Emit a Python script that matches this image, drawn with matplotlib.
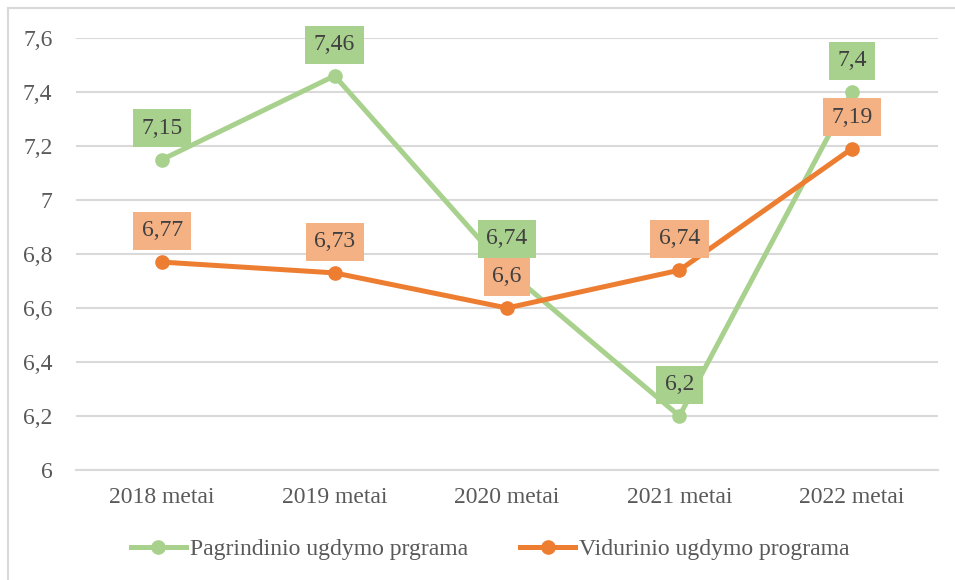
"""line chart of two programme averages by year
"""

import matplotlib.pyplot as plt
from matplotlib.lines import Line2D

years = ['2018 metai', '2019 metai', '2020 metai', '2021 metai', '2022 metai']
pagrindinio = [7.15, 7.46, 6.74, 6.2, 7.4]
vidurinio = [6.77, 6.73, 6.6, 6.74, 7.19]
series_names = ['Pagrindinio ugdymo prgrama', 'Vidurinio ugdymo programa']
y_ticks = [6, 6.2, 6.4, 6.6, 6.8, 7, 7.2, 7.4, 7.6]

GREEN = '#A9D18E'
ORANGE = '#ED7D31'
ORANGE_BOX = '#F4B183'
TEXT = '#595959'
GRID = '#D9D9D9'
FS = 17

plt.rcParams['font.family'] = ['Liberation Serif', 'DejaVu Serif']


def fmt(v):
    return '{:g}'.format(v).replace('.', ',')


fig = plt.figure(figsize=(9.55, 5.8), dpi=100)
ax = fig.add_axes([76 / 955, 1 - 470 / 580, (938 - 76) / 955, (470 - 38) / 580])

x = list(range(len(years)))
ax.plot(x, pagrindinio, color=GREEN, lw=3.6, marker='o', ms=9.5, zorder=3)
ax.plot(x, vidurinio, color=ORANGE, lw=3.6, marker='o', ms=9.5, zorder=4)

for xi, v in zip(x, pagrindinio):
    ax.annotate(fmt(v), (xi, v), xytext=(0, 22.5), textcoords='offset points',
                ha='center', va='center', fontsize=FS, color='#404040', zorder=5,
                bbox=dict(boxstyle='square,pad=0.36', fc=GREEN, ec='none'))
for xi, v in zip(x, vidurinio):
    ax.annotate(fmt(v), (xi, v), xytext=(0, 22.5), textcoords='offset points',
                ha='center', va='center', fontsize=FS, color='#404040', zorder=6,
                bbox=dict(boxstyle='square,pad=0.36', fc=ORANGE_BOX, ec='none'))

ax.set_xlim(-0.5, len(years) - 0.5)
ax.set_ylim(6, 7.6)
ax.set_yticks(y_ticks)
ax.set_yticklabels([fmt(t) for t in y_ticks])
ax.set_xticks(x)
ax.set_xticklabels(years)
ax.tick_params(axis='both', length=0, labelsize=FS, labelcolor=TEXT)
ax.tick_params(axis='y', pad=17)
ax.tick_params(axis='x', pad=12)

ax.yaxis.grid(True, color=GRID, lw=1.5)
ax.set_axisbelow(True)
for side in ['top', 'right', 'left']:
    ax.spines[side].set_visible(False)
ax.spines['bottom'].set_color(GRID)
ax.spines['bottom'].set_linewidth(1.5)

handles = [
    Line2D([], [], color=GREEN, lw=3.6, marker='o', ms=9.5),
    Line2D([], [], color=ORANGE, lw=3.6, marker='o', ms=9.5),
]
fig.legend(handles, series_names, loc='center', bbox_to_anchor=(490 / 955, 1 - 549 / 580),
           ncol=2, frameon=False, fontsize=FS, labelcolor=TEXT,
           handlelength=2.35, handletextpad=0.15, columnspacing=2.2)

# chart frame (left and top edges visible)
fig.add_artist(Line2D([8 / 955, 8 / 955], [0, 1 - 8 / 580], color=GRID, lw=1.5))
fig.add_artist(Line2D([8 / 955, 1], [1 - 8 / 580, 1 - 8 / 580], color=GRID, lw=1.5))

fig.savefig('out.png', dpi=100)
